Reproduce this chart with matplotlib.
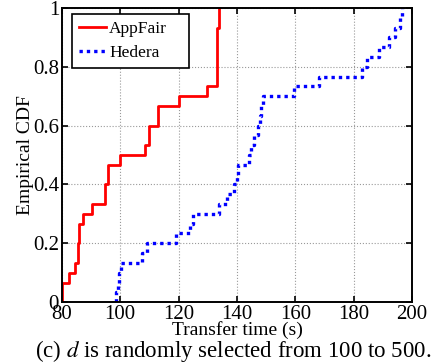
import matplotlib
matplotlib.use('Agg')
import matplotlib.pyplot as plt
import numpy as np

# Transfer times (s), 30 samples each
appfair = [80, 80, 82.5, 84.6, 85.5, 85.5, 86, 86, 87.1, 90.4,
           94.8, 94.8, 95.9, 95.9, 99.9, 108.5, 110, 110, 112.9, 112.9,
           120.2, 129.9, 133.1, 133.1, 133.1, 133.1, 133.3, 133.3, 133.8, 133.8]
hedera = [98.7, 99.2, 99.7, 100.1, 107.5, 109.1, 119, 124, 124.9, 134,
          136.6, 138.9, 140, 140.3, 144, 144.8, 145.7, 147.2, 148, 148.3,
          149, 159.5, 168, 182.9, 184.6, 188.6, 192, 194.3, 196, 196.4]

xticks = [80, 100, 120, 140, 160, 180, 200]
yticks = [0, 0.2, 0.4, 0.6, 0.8, 1]
ytick_labels = ['0', '0.2', '0.4', '0.6', '0.8', '1']

plt.rcParams['font.family'] = ['Liberation Serif', 'DejaVu Serif']
plt.rcParams['mathtext.fontset'] = 'stix'


def ecdf(values):
    v = np.sort(np.asarray(values, dtype=float))
    y = np.arange(1, len(v) + 1) / len(v)
    return np.concatenate([[v[0]], v]), np.concatenate([[0], y])


fig = plt.figure(figsize=(4.45, 3.64), dpi=100)
ax = fig.add_axes([0.139, 0.170, 0.787, 0.808])

x, y = ecdf(appfair)
ax.step(x, y, where='post', color='#ff0000', lw=2.0, label='AppFair')
x, y = ecdf(hedera)
ax.step(x, y, where='post', color='#0000ff', lw=2.4, linestyle=(0, (1, 1.2)),
        label='Hedera')

ax.set_xlim(80, 200)
ax.set_ylim(0, 1)
ax.set_xticks(xticks)
ax.set_yticks(yticks)
ax.set_yticklabels(ytick_labels)
ax.grid(True, linestyle=':', color='#999999', lw=0.8)
ax.tick_params(direction='in', top=True, right=True, labelsize=15, length=4,
               width=1.2, pad=2)
for s in ax.spines.values():
    s.set_linewidth(1.4)

ax.set_xlabel('Transfer time (s)', fontsize=14, labelpad=-2)
ax.set_ylabel('Empirical CDF', fontsize=14, labelpad=-1)

# matlab-like legend box, wider than its text
leg = ax.legend(loc='upper left', bbox_to_anchor=(0.0286, 0.98, 0.334, 0),
                mode='expand', fontsize=12.5, handlelength=1.55,
                fancybox=False, framealpha=1, edgecolor='black',
                borderpad=0.4, labelspacing=0.45, handletextpad=0.2,
                borderaxespad=0)
leg.get_frame().set_linewidth(1.2)

fig.text(0.525, 0.035, '(c) $d$ is randomly selected from 100 to 500.',
         ha='center', va='center', fontsize=16.5)

fig.savefig('out.png', dpi=100)
